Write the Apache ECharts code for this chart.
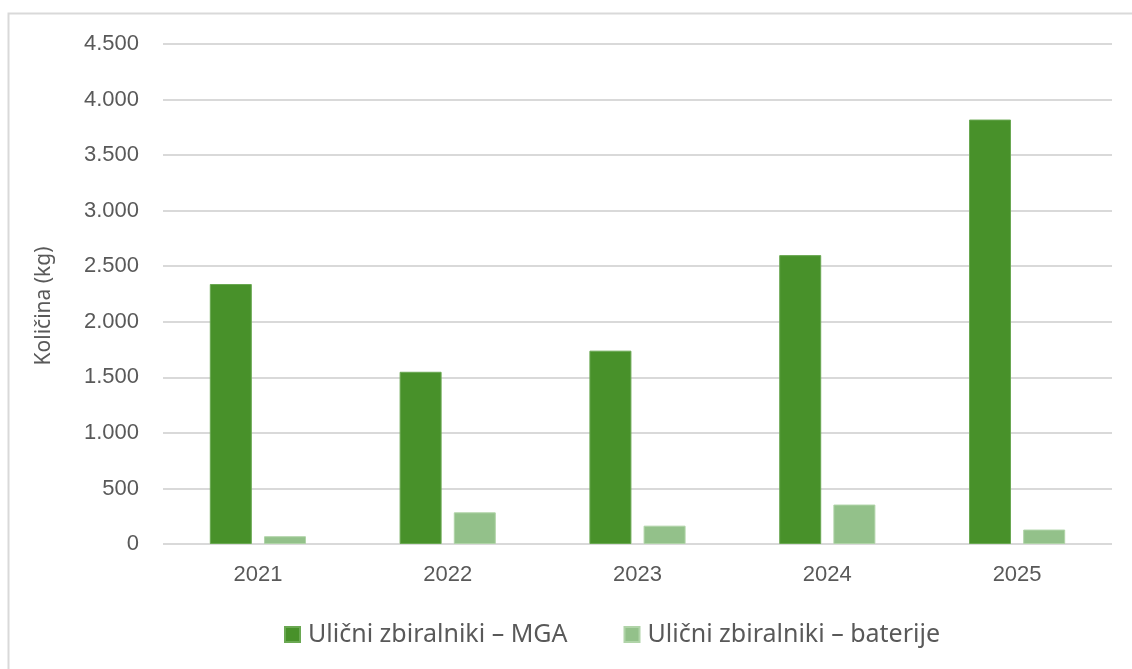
<!DOCTYPE html>
<html>
<head>
<meta charset="utf-8">
<script src="https://cdn.jsdelivr.net/npm/echarts@6/dist/echarts.min.js"></script>
<style>
  html, body { margin: 0; padding: 0; background: #fff; }
  #chart { width: 1132px; height: 669px; }
</style>
</head>
<body>
<div id="chart"></div>
<script>
const years = ["2021", "2022", "2023", "2024", "2025"];
const mga = [2340, 1550, 1740, 2600, 3820];
const baterije = [70, 285, 165, 355, 130];

const darkGreen = "#48912a";
const lightGreen = "#93c18a";

const chart = echarts.init(document.getElementById("chart"));

chart.setOption({
  animation: false,
  textStyle: { fontFamily: "Liberation Sans, Arial, sans-serif" },
  graphic: [
    {
      type: "rect",
      shape: { x: 8.5, y: 13.5, width: 1140, height: 700 },
      style: { fill: "none", stroke: "#d9d9d9", lineWidth: 2 },
      silent: true,
    },
  ],
  grid: { left: 163, right: 20, top: 44, bottom: 125 },
  legend: {
    bottom: 17,
    left: 279,
    itemWidth: 15,
    itemHeight: 15,
    itemGap: 56,
    icon: "rect",
    textStyle: { fontFamily: "Noto Sans", fontSize: 25, color: "#595959", padding: [0, 0, 0, 3] },
    data: ["Ulični zbiralniki – MGA", "Ulični zbiralniki – baterije"],
  },
  xAxis: {
    type: "category",
    data: years,
    axisLine: { show: false },
    axisTick: { show: false },
    axisLabel: { color: "#595959", fontSize: 22, margin: 20 },
  },
  yAxis: {
    type: "value",
    min: 0,
    max: 4500,
    interval: 500,
    name: "Količina (kg)",
    nameLocation: "middle",
    nameGap: 108,
    nameTextStyle: { fontFamily: "Noto Sans", fontSize: 21, color: "#595959", padding: [0, 24, 0, 0] },
    axisLabel: {
      color: "#595959",
      fontSize: 22,
      margin: 24,
      formatter: (v) => v.toLocaleString("de-DE"),
    },
    splitLine: { lineStyle: { color: "#d9d9d9", width: 2 } },
  },
  series: [
    {
      name: "Ulični zbiralniki – MGA",
      type: "bar",
      data: mga,
      barWidth: 42,
      barGap: "29%",
      itemStyle: { color: darkGreen, borderColor: "#6aa852", borderWidth: 1 },
    },
    {
      name: "Ulični zbiralniki – baterije",
      type: "bar",
      data: baterije,
      barWidth: 42,
      itemStyle: { color: lightGreen, borderColor: "#b0d4a8", borderWidth: 1 },
    },
  ],
});
</script>
</body>
</html>
